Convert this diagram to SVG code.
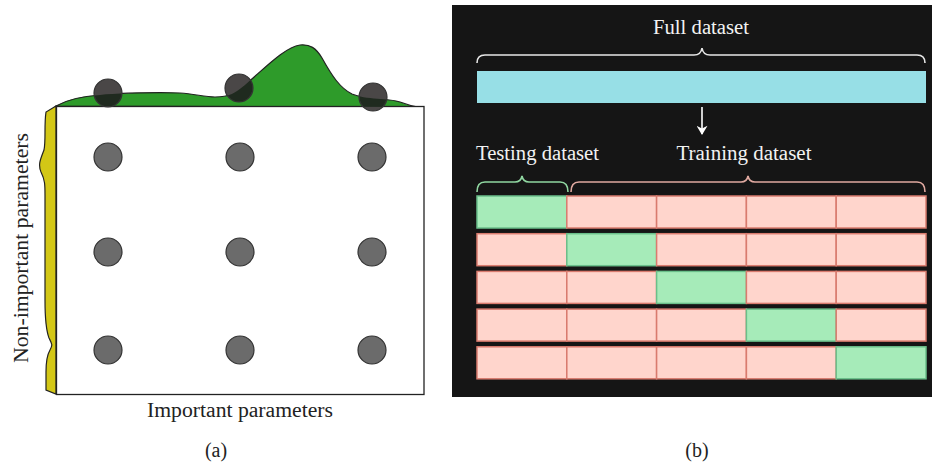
<svg xmlns="http://www.w3.org/2000/svg" width="932" height="462" viewBox="0 0 932 462">
<style>
.t{font-family:"Liberation Serif","Times New Roman",serif;font-size:20px;fill:#222}
.tw{font-family:"Liberation Serif","Times New Roman",serif;font-size:20px;fill:#f2f2f2}
.dot{fill:#6b6b6b;stroke:#333;stroke-width:1.2}
.pk{fill:#ffd5cc;stroke:#d97b6e;stroke-width:1.5}
.gr{fill:#a6ebb9;stroke:#6abf8a;stroke-width:1.5}
.brace{fill:none;stroke-width:1.6}
</style>
<defs>
<path id="gcurve" d="M56,106 C70,98 85,96 100,95 C120,93 160,92 180,93 C195,94 205,97 215,97 C230,97 235,93 245,85 C265,68 285,47 300,45 C310,44 316,48 322,58 C332,76 340,88 352,94 C365,100 390,98 400,102 C408,105 412,106 418,107 Z"/>
<clipPath id="gclip"><use href="#gcurve"/></clipPath>
<marker id="ah" viewBox="0 0 10 12" refX="9" refY="6" markerWidth="12" markerHeight="11" markerUnits="userSpaceOnUse" orient="auto"><path d="M0,0 L10,6 L0,12 L3,6 Z" fill="#fff"/></marker>
</defs>
<rect width="932" height="462" fill="#fff"/>

<!-- Panel (a) -->
<g id="panel-a">
<use href="#gcurve" fill="#2e9b2a" stroke="#222" stroke-width="1.2"/>
<path d="M56,106 L46,112 C44,125 46,140 44,150 C40,160 38,165 41,172 C45,180 45,185 45,195 L45,300 C45,320 46,330 49,338 C52,344 53,345 50,350 C47,355 46,362 46,372 L46,390 L56,394 Z" fill="#d3c716" stroke="#222" stroke-width="1.2"/>
<rect x="56.5" y="106.5" width="367.5" height="288" fill="#fff" stroke="#222" stroke-width="1.3"/>
<g id="top-dots">
<circle cx="108" cy="93" r="14" fill="#4a4747" stroke="#333" stroke-width="1.2"/>
<circle cx="239" cy="88" r="14" fill="#4a4747" stroke="#333" stroke-width="1.2"/>
<circle cx="373" cy="97" r="14" fill="#4a4747" stroke="#333" stroke-width="1.2"/>
<g clip-path="url(#gclip)" fill="#1f2a1f">
<circle cx="108" cy="93" r="13.4"/>
<circle cx="239" cy="88" r="13.4"/>
<circle cx="373" cy="97" r="13.4"/>
</g>
</g>
<g id="grid-dots">
<circle class="dot" cx="108" cy="157" r="14"/>
<circle class="dot" cx="240" cy="157" r="14"/>
<circle class="dot" cx="372" cy="157" r="14"/>
<circle class="dot" cx="108" cy="252" r="14"/>
<circle class="dot" cx="240" cy="252" r="14"/>
<circle class="dot" cx="372" cy="252" r="14"/>
<circle class="dot" cx="108" cy="350" r="14"/>
<circle class="dot" cx="240" cy="350" r="14"/>
<circle class="dot" cx="372" cy="350" r="14"/>
</g>
<text class="t" x="240" y="416.5" text-anchor="middle" textLength="186" lengthAdjust="spacingAndGlyphs">Important parameters</text>
<text class="t" transform="translate(27.5,248) rotate(-90)" text-anchor="middle" textLength="230" lengthAdjust="spacingAndGlyphs">Non-important parameters</text>
<text class="t" x="216" y="456.5" text-anchor="middle">(a)</text>
</g>

<!-- Panel (b) -->
<g id="panel-b">
<rect x="452" y="5" width="480" height="392" fill="#151515"/>
<text class="tw" x="701" y="34" text-anchor="middle" textLength="96" lengthAdjust="spacingAndGlyphs">Full dataset</text>
<path class="brace" stroke="#e6e6e6" d="M477,63 Q477,55 485,55 L694,55 Q701,55 702,48 Q703,55 710,55 L917,55 Q925,55 925,63"/>
<rect id="full" x="477" y="71" width="449" height="32" fill="#97dfe6"/>
<g id="connectors">
<line x1="702" y1="107" x2="702" y2="134" stroke="#fff" stroke-width="1.6" marker-end="url(#ah)"/>
</g>
<text class="tw" x="537.5" y="160" text-anchor="middle" textLength="123" lengthAdjust="spacingAndGlyphs">Testing dataset</text>
<text class="tw" x="744" y="160" text-anchor="middle" textLength="135" lengthAdjust="spacingAndGlyphs">Training dataset</text>
<path class="brace" stroke="#8fd6a0" d="M477,192 Q477,182 485,182 L515,182 Q521,182 522,176 Q523,182 529,182 L560,182 Q568,182 568,192"/>
<path class="brace" stroke="#e0a9a0" d="M571,192 Q571,182 579,182 L741,182 Q747,182 748,176 Q749,182 755,182 L917,182 Q925,182 925,192"/>
<g id="row1">
<rect class="gr" x="477" y="196" width="89.8" height="32"/>
<rect class="pk" x="566.8" y="196" width="89.8" height="32"/>
<rect class="pk" x="656.6" y="196" width="89.8" height="32"/>
<rect class="pk" x="746.4" y="196" width="89.8" height="32"/>
<rect class="pk" x="836.2" y="196" width="89.8" height="32"/>
</g>
<g id="row2">
<rect class="pk" x="477" y="233.7" width="89.8" height="32"/>
<rect class="gr" x="566.8" y="233.7" width="89.8" height="32"/>
<rect class="pk" x="656.6" y="233.7" width="89.8" height="32"/>
<rect class="pk" x="746.4" y="233.7" width="89.8" height="32"/>
<rect class="pk" x="836.2" y="233.7" width="89.8" height="32"/>
</g>
<g id="row3">
<rect class="pk" x="477" y="271.4" width="89.8" height="32"/>
<rect class="pk" x="566.8" y="271.4" width="89.8" height="32"/>
<rect class="gr" x="656.6" y="271.4" width="89.8" height="32"/>
<rect class="pk" x="746.4" y="271.4" width="89.8" height="32"/>
<rect class="pk" x="836.2" y="271.4" width="89.8" height="32"/>
</g>
<g id="row4">
<rect class="pk" x="477" y="309.1" width="89.8" height="32"/>
<rect class="pk" x="566.8" y="309.1" width="89.8" height="32"/>
<rect class="pk" x="656.6" y="309.1" width="89.8" height="32"/>
<rect class="gr" x="746.4" y="309.1" width="89.8" height="32"/>
<rect class="pk" x="836.2" y="309.1" width="89.8" height="32"/>
</g>
<g id="row5">
<rect class="pk" x="477" y="346.8" width="89.8" height="32"/>
<rect class="pk" x="566.8" y="346.8" width="89.8" height="32"/>
<rect class="pk" x="656.6" y="346.8" width="89.8" height="32"/>
<rect class="pk" x="746.4" y="346.8" width="89.8" height="32"/>
<rect class="gr" x="836.2" y="346.8" width="89.8" height="32"/>
</g>
<text class="t" x="697" y="456.5" text-anchor="middle">(b)</text>
</g>
</svg>
